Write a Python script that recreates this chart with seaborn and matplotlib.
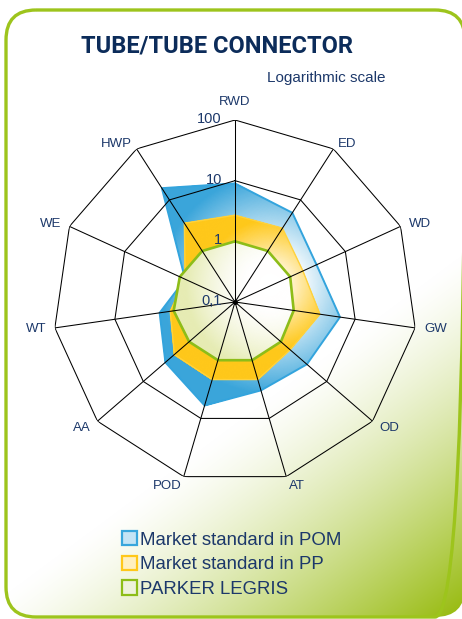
import numpy as np
import pandas as pd
import matplotlib
matplotlib.use('Agg')
import matplotlib.pyplot as plt
import seaborn as sns
from matplotlib.colors import LinearSegmentedColormap, to_rgb
from matplotlib.patches import FancyBboxPatch, Patch

# values (log scale, centre = 0.1)
categories = ['RWD', 'ED', 'WD', 'GW', 'OD', 'AT', 'POD', 'AA', 'WT', 'WE', 'HWP']
pom = [9.0, 5.6, 3.0, 5.6, 3.7, 3.3, 6.0, 3.3, 1.8, 0.8, 17.0]
pp = [2.7, 2.8, 1.7, 2.6, 1.6, 2.15, 2.15, 2.1, 1.2, 0.8, 3.5]
parker = [1.0, 1.0, 1.0, 0.95, 1.0, 1.0, 1.0, 1.0, 1.05, 1.0, 1.0]
series_names = ['Market standard in POM', 'Market standard in PP', 'PARKER LEGRIS']
scale_ticks = [0.1, 1, 10, 100]
scale_labels = ['0,1', '1', '10', '100']

navy = '#1c386a'
blue, yellow, green = '#38a6dc', '#ffc81a', '#8dbd18'

sns.set_theme(style='white')
plt.rcParams['font.family'] = ['Liberation Sans', 'DejaVu Sans']

W, H = 462, 619
fig = plt.figure(figsize=(W / 100, H / 100), dpi=100)

# background card with green corner gradient
bg = fig.add_axes([0, 0, 1, 1])
yy, xx = np.mgrid[0:H, 0:W] + 0.5
t = np.clip((0.596 * xx + 0.802 * yy - 480) / 290, 0, 1) ** 1.3
img = (1 - t)[..., None] + t[..., None] * np.array(to_rgb('#96ba0c'))
im = bg.imshow(img, extent=(0, W, H, 0), origin='upper', interpolation='bilinear')
frame = FancyBboxPatch((6, 10), 459, 607, boxstyle='round,pad=0,rounding_size=30',
                       facecolor='none', edgecolor='#9dc41c', lw=2.4)
bg.add_patch(frame)
im.set_clip_path(frame)
bg.set_aspect('auto')
bg.set_xlim(0, W)
bg.set_ylim(H, 0)
bg.axis('off')

# radar axes
cx, cy, R = 235, 302, 182
ax = fig.add_axes([(cx - R) / W, (H - cy - R) / H, 2 * R / W, 2 * R / H], projection='polar')
ax.set_theta_offset(np.pi / 2)
ax.set_theta_direction(-1)
ax.patch.set_alpha(0)

theta = np.linspace(0, 2 * np.pi, len(categories), endpoint=False)
thc = np.append(theta, theta[0] + 2 * np.pi)
rmax = np.log10(scale_ticks[-1]) + 1
unit = R / rmax


def to_r(v):
    return np.log10(np.asarray(v, dtype=float)) + 1


# mesh for radial gradients (centre of light slightly up/right)
TH, RR = np.meshgrid(np.linspace(0, 2 * np.pi, 361), np.linspace(0, rmax, 151))
gx, gy = 0.58, 0.28
D = np.hypot(RR * np.sin(TH) - gx, RR * np.cos(TH) - gy) * unit


def gradient_fill(values, c_in, c_out, d0, d1, z, edge, lw, p=1.0):
    r = to_r(values)
    rc = np.append(r, r[0])
    poly = ax.fill(thc, rc, facecolor='none', edgecolor='none', zorder=z)[0]
    cmap = LinearSegmentedColormap.from_list('', [c_in, c_out])
    C = np.clip((D - d0) / (d1 - d0), 0, 1) ** p
    mesh = ax.pcolormesh(TH, RR, C, cmap=cmap, vmin=0, vmax=1, shading='gouraud', zorder=z)
    mesh.set_clip_path(poly)
    sns.lineplot(x=thc, y=rc, sort=False, color=edge, lw=lw, ax=ax, zorder=z + 0.5)


gradient_fill(pom, 'white', '#3aa5da', 30, 110, 1, '#33a4dd', 1.4)
gradient_fill(pp, 'white', '#ffc81a', 12, 66, 2, '#ffd23c', 1.0, p=0.9)
gradient_fill(parker, 'white', '#e6ecb4', 22, 85, 3, green, 1.9, p=1.5)

# polygon grid on top
ax.vlines(theta, 0, rmax, colors='black', lw=0.75, zorder=5)
for lev in scale_ticks[2:]:
    ax.plot(thc, np.full(len(thc), to_r(lev)), color='black', lw=0.75, zorder=5)
ax.plot([0], [0], 'o', color='black', ms=2.5, zorder=5)

for lev, lab in zip(scale_ticks, scale_labels):
    ax.annotate(lab, xy=(0, to_r(lev)), xytext=(-13, 1), textcoords='offset pixels',
                ha='right', va='center', fontsize=10.5, color=navy, zorder=6)

for th, lab in zip(theta, categories):
    s, c = np.sin(th), np.cos(th)
    if abs(s) < 0.1:
        ha, va, dx, dy = 'center', 'bottom', 0, 12
    else:
        ha = 'left' if s > 0 else 'right'
        va = 'center'
        dx, dy = 9 * s, (6 * c if c > 0 else 10 * c)
    ax.annotate(lab, xy=(th, rmax), xytext=(dx, dy), textcoords='offset pixels',
                ha=ha, va=va, fontsize=9.5, color=navy, annotation_clip=False)

ax.set_ylim(0, rmax)
ax.grid(False)
ax.set_xticks([])
ax.set_yticks([])
ax.set_xlabel('')
ax.set_ylabel('')
ax.spines['polar'].set_visible(False)

fig.text(217 / W, 1 - 53 / H, 'TUBE/TUBE CONNECTOR', ha='center', va='baseline',
         fontsize=17, fontweight='bold', color='#0c2c5a', family=['Roboto', 'DejaVu Sans'])
fig.text(267 / W, 1 - 82 / H, 'Logarithmic scale', ha='left', va='baseline',
         fontsize=11, color=navy)

handles = [Patch(facecolor='#c4e4f5', edgecolor=blue, lw=1.6),
           Patch(facecolor='#fff0c0', edgecolor=yellow, lw=1.6),
           Patch(facecolor='#eef2dc', edgecolor=green, lw=1.6)]
fig.legend(handles, series_names, loc='upper left', bbox_to_anchor=(122 / W, 1 - 531 / H),
           frameon=False, fontsize=13.4, labelcolor=navy, handlelength=0.8,
           handleheight=0.8, handletextpad=0.15, labelspacing=0.38,
           borderpad=0, borderaxespad=0)

fig.savefig('out.png', dpi=100)
